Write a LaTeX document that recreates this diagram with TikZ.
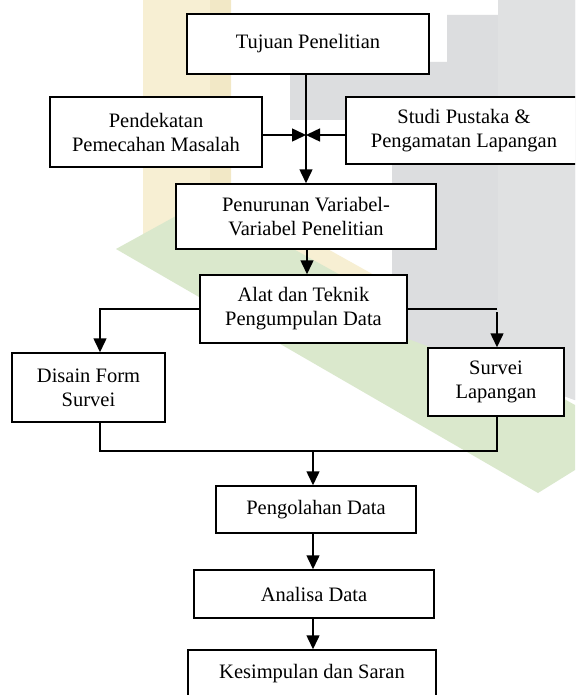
\documentclass[tikz,border=0pt]{standalone}
\usepackage{fontspec}
\setmainfont{Liberation Serif}
\usetikzlibrary{arrows.meta}
\definecolor{wmyellow}{HTML}{F7EFD3}
\definecolor{wmyellowd}{HTML}{F2E8C6}
\definecolor{wmgray}{HTML}{DCDDDF}
\definecolor{wmgrayl}{HTML}{E0E1E2}
\definecolor{wmgreen}{HTML}{DAE8CC}
\begin{document}
\begin{tikzpicture}[x=1pt,y=-1pt,
  box/.style={draw=black, line width=1.5pt, fill=white, align=center, inner sep=0pt,
    font=\fontsize{20.5}{24}\selectfont},
  conn/.style={line width=1.5pt},
  arr/.style={conn,-{Triangle[width=13pt,length=14pt]}}]
\useasboundingbox (0,0) rectangle (575,695);
\clip (0,0) rectangle (575,695);
\fill[white] (0,0) rectangle (575,695);
% watermark
\fill[wmyellow] (143,0) -- (231,0) -- (231,195) -- (392,285) -- (392,320) -- (143,250) -- cycle;
\fill[wmyellowd] (210,0) rectangle (231,200);
\fill[wmgreen] (116,249) -- (205,200) -- (575,405) -- (575,470) -- (538,493) -- cycle;
\fill[wmgray] (290,62) -- (447,62) -- (447,15) -- (498,15) -- (498,0) -- (575,0) -- (575,400) -- (392,333) -- (392,120) -- (290,120) -- cycle;
\fill[wmgrayl] (498,0) -- (575,0) -- (575,400) -- (498,372) -- cycle;
% nodes
\node[box, minimum width=242pt, minimum height=60pt] (tujuan) at (308,44) {Tujuan Penelitian};
\node[box, minimum width=212pt, minimum height=70pt] (pend) at (156,132) {Pendekatan\\Pemecahan Masalah};
\node[box, minimum width=236pt, minimum height=67pt] (studi) at (464,130.5) {Studi Pustaka \&\\Pengamatan Lapangan};
\node[box, minimum width=260pt, minimum height=65pt] (turun) at (306,216.5) {Penurunan Variabel-\\Variabel Penelitian};
\node[box, minimum width=207pt, minimum height=68pt] (alat) at (303.5,309) {Alat dan Teknik\\Pengumpulan Data};
\node[box, minimum width=153pt, minimum height=69pt] (disain) at (88.5,387.5) {Disain Form\\Survei};
\node[box, minimum width=136pt, minimum height=68pt] (survei) at (496,382) {Survei\\Lapangan};
\node[box, minimum width=200pt, minimum height=47pt] (olah) at (316,509.5) {Pengolahan Data};
\node[box, minimum width=240pt, minimum height=48pt] (analisa) at (314,594) {Analisa Data};
\node[box, minimum width=248pt, minimum height=48pt] (kesim) at (312,674) {Kesimpulan dan Saran};
% coordinates
\coordinate (j) at (306,135);
\coordinate (c2) at (307,250);
\coordinate (bl) at (100,309);
\coordinate (br) at (497,309);
\coordinate (brs) at (497,312);
\coordinate (m1) at (100,451);
\coordinate (m2) at (497,451);
\coordinate (mc) at (313,451);
% connectors
\draw[conn] (tujuan.south -| j) -- (j);
\draw[arr] (j) -- (turun.north -| j);
\draw[arr] (pend.east |- j) -- (j);
\draw[arr] (studi.west |- j) -- (j);
\draw[arr] (turun.south -| c2) -- (alat.north -| c2);
\draw[arr] (alat.west) -- (bl) -- (disain.north -| bl);
\draw[conn] (alat.east) -- (br);
\draw[arr] (brs) -- (survei.north -| brs);
\draw[conn] (disain.south -| m1) -- (m1) -- (m2) -- (survei.south -| m2);
\draw[arr] (mc) -- (olah.north -| mc);
\draw[arr] (olah.south -| mc) -- (analisa.north -| mc);
\draw[arr] (analisa.south -| mc) -- (kesim.north -| mc);
\end{tikzpicture}
\end{document}
